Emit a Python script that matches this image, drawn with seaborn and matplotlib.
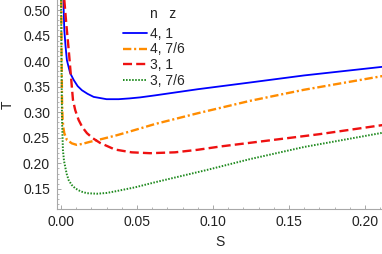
import numpy as np
import pandas as pd
import matplotlib
matplotlib.use("Agg")
import matplotlib.pyplot as plt
import seaborn as sns
from matplotlib.ticker import MultipleLocator

# values
s_blue = [0.0016, 0.0018, 0.0022, 0.003, 0.0039, 0.006, 0.0084, 0.011, 0.0138, 0.0175, 0.0215, 0.030, 0.038, 0.045, 0.052, 0.062, 0.09, 0.124, 0.16, 0.212]
t_blue = [0.52, 0.50, 0.461, 0.43, 0.402, 0.377, 0.363, 0.351, 0.343, 0.336, 0.330, 0.3255, 0.3255, 0.327, 0.329, 0.333, 0.345, 0.358, 0.372, 0.389]

s_orange = [0.0002, 0.0004, 0.0007, 0.0011, 0.0016, 0.0022, 0.0039, 0.0072, 0.0105, 0.014, 0.019, 0.0275, 0.0368, 0.045, 0.062, 0.09, 0.124, 0.16, 0.212]
t_orange = [0.52, 0.42, 0.324, 0.285, 0.27, 0.259, 0.246, 0.239, 0.236, 0.238, 0.242, 0.248, 0.255, 0.262, 0.277, 0.298, 0.322, 0.344, 0.371]

s_red = [0.0022, 0.0036, 0.0051, 0.0065, 0.0079, 0.0094, 0.0116, 0.014, 0.0171, 0.021, 0.0257, 0.0355, 0.0465, 0.0586, 0.075, 0.09, 0.105, 0.124, 0.17, 0.212]
t_red = [0.52, 0.47, 0.422, 0.373, 0.324, 0.304, 0.285, 0.271, 0.259, 0.249, 0.240, 0.227, 0.2215, 0.2198, 0.2215, 0.2265, 0.233, 0.240, 0.257, 0.275]

s_green = [0.0001, 0.0004, 0.0007, 0.0013, 0.002, 0.0028, 0.0038, 0.0051, 0.007, 0.0094, 0.013, 0.0171, 0.0237, 0.030, 0.0355, 0.0487, 0.062, 0.096, 0.124, 0.16, 0.212]
t_green = [0.52, 0.38, 0.285, 0.226, 0.205, 0.193, 0.179, 0.167, 0.158, 0.151, 0.145, 0.1415, 0.1405, 0.142, 0.145, 0.153, 0.163, 0.187, 0.208, 0.232, 0.26]

labels = ["4, 1", "4, 7/6", "3, 1", "3, 7/6"]
colors = ["#0000ff", "#ff8c00", "#ee1111", "#1f8a1f"]
styles = ["-", (0, (6, 2, 1.5, 2)), (0, (6.5, 3)), (0, (1.1, 1.1))]
widths = [1.3, 1.7, 1.7, 1.4]

sns.set_style("white")
plt.rcParams['font.family'] = ['Liberation Sans', 'DejaVu Sans']
plt.rcParams['lines.scale_dashes'] = False

fig = plt.figure(figsize=(3.82, 2.54), dpi=100)
ax = fig.add_axes([57 / 382, 45 / 254, 325 / 382, 209 / 254])

curves = [(s_blue, t_blue), (s_orange, t_orange), (s_red, t_red), (s_green, t_green)]
for (s, t), lab, c, ls, lw in zip(curves, labels, colors, styles, widths):
    df = pd.DataFrame({"S": s, "T": t})
    sns.lineplot(data=df, x="S", y="T", ax=ax, color=c, linestyle=ls,
                 linewidth=lw, label=lab, estimator=None, sort=False)

ax.set_xlim(-0.0026, 0.2112)
ax.set_ylim(0.1106, 0.5196)

ax.xaxis.set_minor_locator(MultipleLocator(0.01))
ax.yaxis.set_minor_locator(MultipleLocator(0.01))
ax.set_xticks([0, 0.05, 0.10, 0.15, 0.20])
ax.set_xticklabels(["0.00", "0.05", "0.10", "0.15", "0.20"])
ax.set_yticks([0.15, 0.20, 0.25, 0.30, 0.35, 0.40, 0.45, 0.50])
ax.set_yticklabels(["0.15", "0.20", "0.25", "0.30", "0.35", "0.40", "0.45", "0.50"])

gray = "#a8a8a8"
for side in ["top", "right"]:
    ax.spines[side].set_visible(False)
for side in ["left", "bottom"]:
    ax.spines[side].set_color(gray)
    ax.spines[side].set_linewidth(0.8)
ax.tick_params(which="both", bottom=True, left=True, top=False, right=False)
ax.tick_params(which="major", direction="in", length=3, width=0.7, color=gray,
               labelsize=10, labelcolor="#222222", pad=5)
ax.tick_params(which="minor", direction="in", length=1.6, width=0.6, color=gray)
ax.tick_params(axis="x", which="major", pad=4)

ax.set_xlabel("S", fontsize=10, color="#222222", labelpad=5)
ax.set_ylabel("T", fontsize=10, color="#222222", labelpad=6)

leg = ax.legend(loc="upper left", bbox_to_anchor=(0.203, 0.872), frameon=False,
                fontsize=10, handlelength=1.75, handletextpad=0.2,
                labelspacing=0.12, borderpad=0, borderaxespad=0)
ax.text(0.285, 0.935, "n   z", transform=ax.transAxes, fontsize=10,
        color="#222222", va="center", ha="left")

fig.savefig("out.png", dpi=100)
